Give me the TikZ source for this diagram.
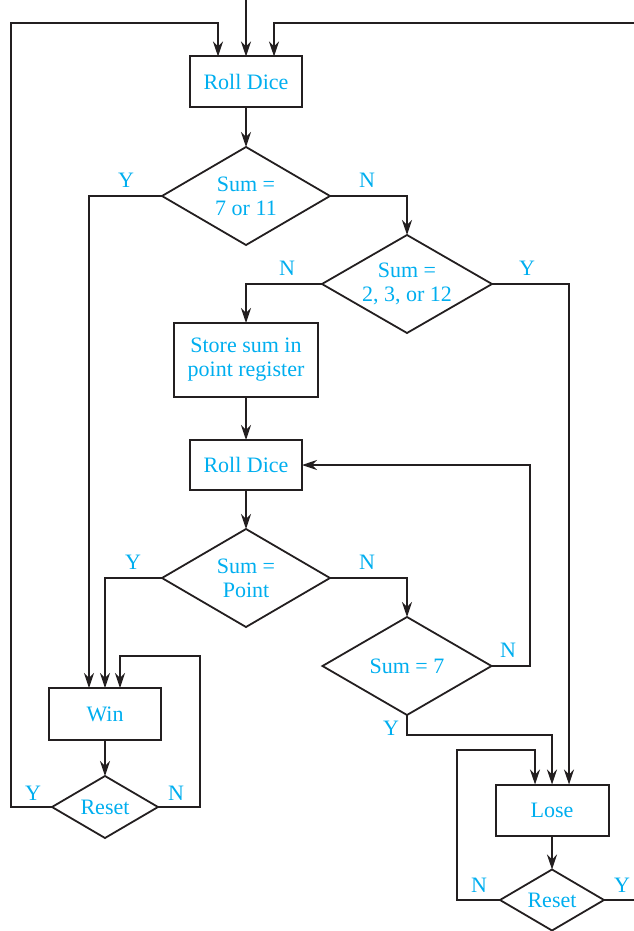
\documentclass[tikz,border=0pt]{standalone}
\usepackage{fontspec}
\setmainfont{Liberation Serif}
\usetikzlibrary{arrows.meta,shapes.geometric}
\definecolor{cy}{HTML}{00AEEF}
\definecolor{ink}{HTML}{231F20}
\begin{document}
\begin{tikzpicture}[x=1pt,y=-1pt,
  every node/.style={font=\fontsize{22}{24}\selectfont, text=cy},
  procbox/.style={draw=ink, line width=2pt, rectangle, inner sep=0pt, outer sep=0pt, align=center},
  decbox/.style={draw=ink, line width=1.8pt, diamond, aspect=1.7, inner sep=0pt, outer sep=0pt, align=center},
  conn/.style={draw=ink, line width=1.2pt},
  arr/.style={conn, -{Stealth[length=15pt,width=10pt,inset=5pt]}},
  lbl/.style={inner sep=0pt}]
\useasboundingbox (0,0) rectangle (634,931);
% nodes
\node[procbox, minimum width=112pt, minimum height=51pt] (roll1) at (246,82) {Roll Dice};
\node[decbox, minimum width=168pt, minimum height=98pt] (d1) at (246,196) {Sum =\\7 or 11};
\node[decbox, minimum width=170pt, minimum height=98pt] (d2) at (407,284) {Sum =\\2, 3, or 12};
\node[procbox, minimum width=144pt, minimum height=74pt] (store) at (246,360) {Store sum in\\point register};
\node[procbox, minimum width=112pt, minimum height=50pt] (roll2) at (246,465) {Roll Dice};
\node[decbox, minimum width=168pt, minimum height=98pt] (d3) at (246,578) {Sum =\\Point};
\node[decbox, minimum width=169pt, minimum height=98pt] (d4) at (407,666) {Sum = 7};
\node[procbox, minimum width=112pt, minimum height=52pt] (win) at (105,714) {Win};
\node[decbox, minimum width=106pt, minimum height=62pt] (r1) at (105,807) {Reset};
\node[procbox, minimum width=113pt, minimum height=51pt] (lose) at (552,810) {Lose};
\node[decbox, minimum width=104pt, minimum height=61pt] (r2) at (552,900) {Reset};
\coordinate (topin) at (246,0);
\coordinate (rightin) at (634,23);
\coordinate (rightout) at (634,900);
% labels
\node[lbl] (y1) at (126,180) {Y};
\node[lbl] (n1) at (367,180) {N};
\node[lbl] (n2) at (287,268) {N};
\node[lbl] (y2) at (527,268) {Y};
\node[lbl] (y3) at (133,562) {Y};
\node[lbl] (n3) at (367,562) {N};
\node[lbl] (n4) at (508,650) {N};
\node[lbl] (y4) at (391,728) {Y};
\node[lbl] (y5) at (33,793) {Y};
\node[lbl] (n5) at (176,793) {N};
\node[lbl] (n6) at (479,885) {N};
\node[lbl] (y6) at (622,885) {Y};
% connectors
\draw[arr] (topin) -- (roll1.north);
\draw[arr] (r1.west) -| (11,23) -| (roll1.north -| 218,0);
\draw[arr] (rightin) -| (roll1.north -| 274,0);
\draw[arr] (roll1.south) -- (d1.north);
\draw[arr] (d1.west) -| (win.north -| 89,0);
\draw[arr] (d1.east) -| (d2.north);
\draw[arr] (d2.west) -| (store.north);
\draw[arr] (d2.east) -| (lose.north -| 569,0);
\draw[arr] (store.south) -- (roll2.north);
\draw[arr] (roll2.south) -- (d3.north);
\draw[arr] (d3.west) -| (win.north);
\draw[arr] (d3.east) -| (d4.north);
\draw[arr] (d4.east) -| (530,465) -- (roll2.east);
\draw[arr] (d4.south) |- (552,735) -- (lose.north);
\draw[arr] (win.south) -- (r1.north);
\draw[arr] (r1.east) -| (200,656) -| (win.north -| 120,0);
\draw[arr] (lose.south) -- (r2.north);
\draw[arr] (r2.west) -| (457,750) -| (lose.north -| 535,0);
\draw[conn] (r2.east) -- (rightout);
\end{tikzpicture}
\end{document}
